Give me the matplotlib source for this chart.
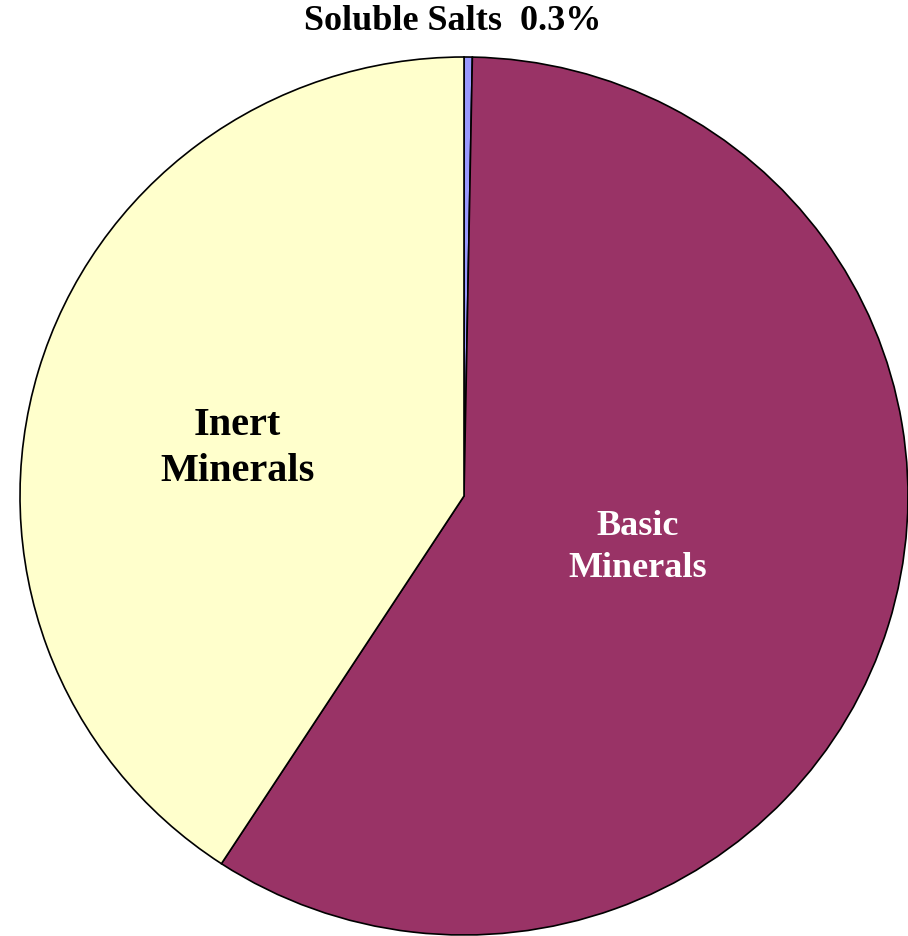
import matplotlib.pyplot as plt

labels = ['Soluble Salts', 'Basic Minerals', 'Inert Minerals']
shares = [0.3, 58.9, 40.8]
colors = ['#9999FF', '#993366', '#FFFFCC']

plt.rcParams['font.family'] = ['Liberation Serif', 'DejaVu Serif']

W, H = 908, 936
fig = plt.figure(figsize=(W / 100, H / 100), dpi=100)
ax = fig.add_axes([20 / W, 1 / H, 888 / W, 878 / H])

wedges, _ = ax.pie(shares, colors=colors, startangle=90, counterclock=False,
                   wedgeprops=dict(edgecolor='black', linewidth=1.2))
ax.set_aspect('auto')
ax.set_xlim(-1.0, 1.0)
ax.set_ylim(-1.0, 1.0)

ax.text(-0.511, 0.108, 'Inert\nMinerals', ha='center', va='center',
        fontsize=29, fontweight='bold', color='black', linespacing=1.35)
ax.text(0.392, -0.117, 'Basic\nMinerals', ha='center', va='center',
        fontsize=26, fontweight='bold', color='white', linespacing=1.38)

fig.text(453 / W, 1 - 22 / H, f'{labels[0]}  {shares[0]}%', ha='center', va='center',
         fontsize=26, fontweight='bold', color='black')

fig.savefig('out.png', dpi=100)
